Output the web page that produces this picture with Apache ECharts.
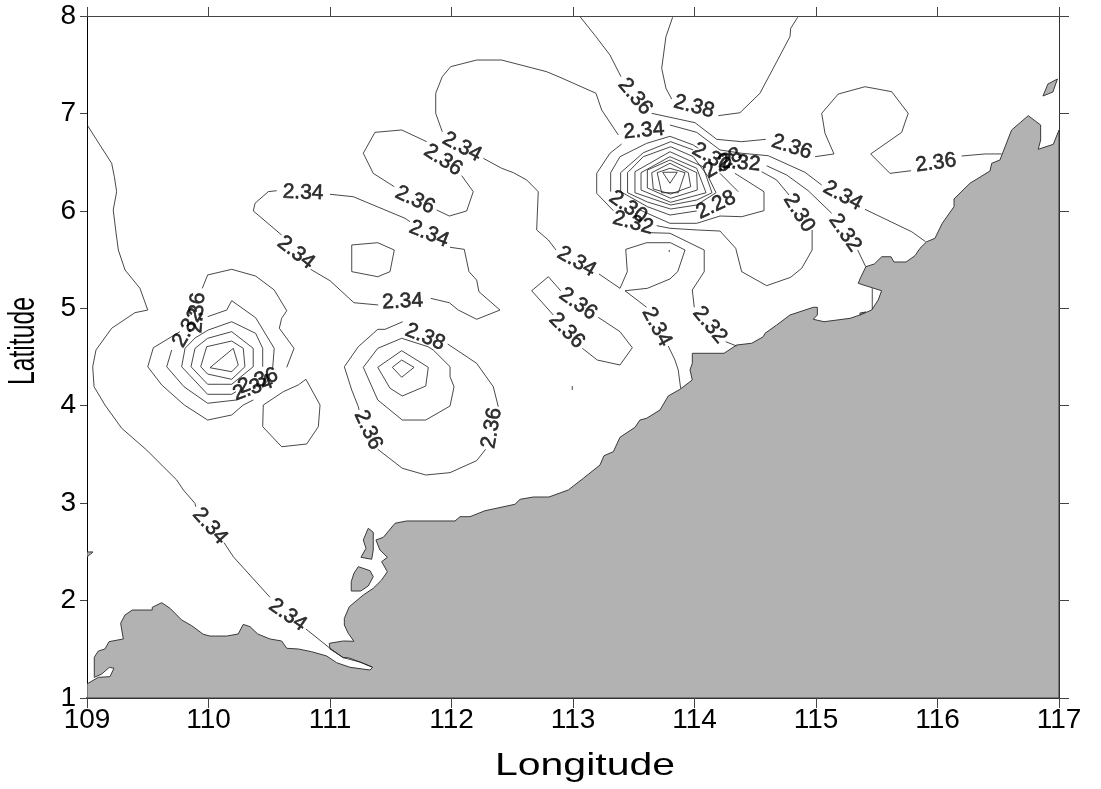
<!DOCTYPE html>
<html>
<head>
<meta charset="utf-8">
<script src="https://cdn.jsdelivr.net/npm/echarts@6/dist/echarts.min.js"></script>
<style>html,body{margin:0;padding:0;background:#fff}#c{width:1101px;height:789px}</style>
</head>
<body>
<div id="c"></div>
<script>
const lonTicks = [109,110,111,112,113,114,115,116,117];
const latTicks = [1,2,3,4,5,6,7,8];

// Land outline and islands [lon, lat]
const landMain = [[109,1.144],[109.093,1.212],[109.189,1.219],[109.222,1.305],[109.184,1.315],[109.121,1.246],[109.06,1.212],[109.06,1.418],[109.093,1.482],[109.148,1.503],[109.181,1.578],[109.299,1.606],[109.277,1.767],[109.313,1.852],[109.373,1.903],[109.537,1.903],[109.537,1.931],[109.615,1.978],[109.683,1.921],[109.779,1.801],[109.862,1.742],[109.957,1.654],[110.012,1.636],[110.15,1.636],[110.245,1.657],[110.286,1.756],[110.342,1.732],[110.405,1.657],[110.506,1.606],[110.602,1.585],[110.644,1.51],[110.739,1.503],[110.849,1.475],[110.973,1.431],[111.055,1.362],[111.165,1.315],[111.329,1.287],[111.351,1.315],[111.274,1.356],[111.15,1.414],[111.109,1.414],[111,1.503],[110.994,1.561],[111.109,1.585],[111.197,1.582],[111.15,1.664],[111.118,1.749],[111.118,1.818],[111.159,1.937],[111.274,2.057],[111.356,2.126],[111.425,2.211],[111.472,2.296],[111.425,2.399],[111.472,2.444],[111.411,2.519],[111.378,2.622],[111.439,2.649],[111.535,2.793],[111.631,2.817],[112.029,2.817],[112.07,2.861],[112.152,2.861],[112.276,2.922],[112.522,2.988],[112.564,3.039],[112.673,3.063],[112.802,3.063],[112.961,3.135],[113.085,3.255],[113.222,3.391],[113.255,3.487],[113.332,3.528],[113.387,3.676],[113.51,3.778],[113.551,3.853],[113.606,3.871],[113.716,3.956],[113.784,4.1],[113.88,4.168],[113.982,4.264],[113.963,4.367],[113.982,4.435],[113.982,4.538],[114.243,4.538],[114.347,4.623],[114.471,4.641],[114.566,4.708],[114.58,4.743],[114.676,4.828],[114.786,4.931],[114.978,5.01],[115.011,5.01],[115.011,4.931],[114.978,4.887],[115.066,4.862],[115.28,4.897],[115.362,4.931],[115.458,4.982],[115.512,5.085],[115.54,5.18],[115.348,5.256],[115.362,5.301],[115.411,5.427],[115.48,5.455],[115.541,5.529],[115.617,5.529],[115.642,5.475],[115.741,5.475],[115.815,5.54],[115.856,5.616],[115.911,5.683],[115.979,5.718],[116.039,5.872],[116.136,6.043],[116.136,6.122],[116.267,6.283],[116.432,6.409],[116.446,6.488],[116.514,6.522],[116.61,6.83],[116.747,6.977],[116.849,6.881],[116.849,6.727],[116.829,6.632],[116.953,6.683],[117,6.83],[117,1],[109,1]];
const islandA = [[111.315,2.742],[111.356,2.701],[111.356,2.519],[111.343,2.424],[111.255,2.444],[111.296,2.536],[111.274,2.622]];
const islandB = [[111.233,2.348],[111.329,2.307],[111.356,2.245],[111.315,2.15],[111.253,2.098],[111.175,2.098],[111.175,2.194],[111.197,2.28]];
const islandC = [[116.987,7.353],[116.909,7.302],[116.868,7.179],[116.95,7.22]];
const islandD = [[109,2.499],[109.049,2.499],[109,2.447]];
const islandE = [[115.362,4.951],[115.41,4.962],[115.362,4.931]];

// Contour segments [lon, lat]
const westA = [[109.002,6.881],[109.08,6.727],[109.203,6.488],[109.225,6.351],[109.244,6.197],[109.216,6.009],[109.236,5.804],[109.258,5.598],[109.313,5.393],[109.436,5.205],[109.5,4.982],[109.395,4.955],[109.203,4.795],[109.074,4.572],[109.047,4.4],[109.058,4.195],[109.148,4.007],[109.286,3.768],[109.491,3.545],[109.628,3.374],[109.738,3.238],[109.793,3.135],[109.889,2.998],[109.895,2.963]];
const westB = [[110.128,2.594],[110.204,2.45],[110.506,2.034]];
const westC = [[110.802,1.708],[111,1.51],[111.109,1.414],[111.247,1.369],[111.346,1.318]];
const loopA = [[113.373,6.779],[113.236,7.035],[113.189,7.207],[112.893,7.371],[112.784,7.428],[112.413,7.548],[112.207,7.548],[111.993,7.48],[111.924,7.377],[111.87,7.207],[111.87,7.001],[111.924,6.812]];
const loopB = [[112.262,6.539],[112.413,6.437],[112.509,6.392],[112.619,6.317],[112.714,6.197],[112.701,5.804],[112.797,5.701],[112.86,5.598]];
const loopC = [[113.214,5.352],[113.387,5.205],[113.447,5.376],[113.434,5.605],[113.606,5.673],[113.803,5.673],[113.922,5.598],[113.862,5.376],[113.798,5.301],[113.612,5.205],[113.428,5.18],[113.606,5.01]];
const loopD = [[113.784,4.613],[113.839,4.469],[113.866,4.367],[113.886,4.179]];
const northA = [[111.796,6.71],[111.59,6.83],[111.37,6.806],[111.274,6.591],[111.356,6.385],[111.529,6.248]];
const northB = [[111.878,6.009],[111.982,5.947],[112.125,5.999],[112.179,6.197],[112.084,6.361]];
const midA = [[110.561,6.207],[110.492,6.197],[110.383,6.078],[110.369,5.999],[110.602,5.752]];
const midB = [[111,6.17],[111.192,6.145],[111.617,5.924],[111.658,5.889]];
const midC = [[111.988,5.626],[112.105,5.605],[112.144,5.376],[112.207,5.29],[112.226,5.17],[112.399,4.982],[112.207,4.887],[112.056,4.982],[111.982,5.057],[111.829,5.102]];
const midD = [[111.397,5.034],[111.197,5.057],[111,5.283],[110.841,5.4]];
const midIsle = [[111.179,5.65],[111.393,5.673],[111.529,5.598],[111.494,5.376],[111.393,5.324],[111.179,5.376],[111.179,5.65]];
const peakW1 = [[109.949,5.205],[109.993,5.342],[110.191,5.4],[110.388,5.331],[110.541,5.188],[110.644,4.975],[110.602,4.897],[110.583,4.795],[110.704,4.589],[110.644,4.394]];
const peakW2 = [[109.993,4.914],[110.15,4.982],[110.191,5.078],[110.388,4.903],[110.541,4.589],[110.528,4.384]];
const peakW3 = [[109.765,4.76],[109.546,4.595],[109.5,4.4],[109.615,4.213],[109.801,4.007],[109.993,3.853],[110.191,3.905],[110.286,4.007],[110.369,4.059]];
const peakW4 = [[109.697,4.572],[109.656,4.4],[109.798,4.195],[109.993,4.025],[110.232,4.059]];
const peakW5 = [[110.446,4.4],[110.446,4.589],[110.388,4.743],[110.191,4.862],[109.998,4.777],[109.889,4.695],[109.807,4.589],[109.779,4.4],[109.993,4.117],[110.191,4.117],[110.226,4.144]];
const peakW6 = [[109.856,4.4],[109.993,4.22],[110.191,4.22],[110.368,4.4],[110.368,4.589],[110.191,4.76],[109.993,4.692],[109.889,4.589],[109.856,4.4]];
const peakW7 = [[109.936,4.4],[109.993,4.325],[110.191,4.271],[110.3,4.4],[110.286,4.589],[110.191,4.664],[109.985,4.606],[109.936,4.4]];
const peakW8 = [[110.012,4.39],[110.204,4.589],[110.245,4.418],[110.191,4.349],[110.012,4.39]];
const sideLobe = [[110.451,4.007],[110.616,4.144],[110.739,4.213],[110.802,4.271],[110.918,4.007],[110.904,3.785],[110.808,3.607],[110.602,3.579],[110.446,3.785],[110.451,4.007]];
const peakM1a = [[111.598,4.862],[111.453,4.784],[111.393,4.784],[111.233,4.606],[111.118,4.4],[111.179,4.161],[111.233,3.99],[111.239,3.956]];
const peakM1b = [[111.393,3.553],[111.595,3.358],[111.788,3.289],[111.988,3.313],[112.207,3.436],[112.281,3.553]];
const peakM1c = [[112.385,3.99],[112.344,4.195],[112.207,4.435],[111.969,4.633]];
const peakM2 = [[111.59,4.692],[111.393,4.589],[111.274,4.394],[111.393,4.059],[111.595,3.853],[111.788,3.853],[111.988,3.997],[112.021,4.195],[111.988,4.298],[111.988,4.4],[111.85,4.572],[111.806,4.606],[111.59,4.692]];
const peakM3 = [[111.59,4.565],[111.393,4.394],[111.494,4.179],[111.595,4.1],[111.788,4.202],[111.809,4.394],[111.59,4.565]];
const peakM4 = [[111.59,4.469],[111.692,4.394],[111.59,4.292],[111.513,4.394],[111.59,4.469]];
const southA = [[112.899,5.18],[112.797,5.324],[112.66,5.18],[112.838,4.931]];
const southB = [[113.208,4.907],[113.387,4.76],[113.488,4.595],[113.387,4.418],[113.2,4.469],[113.077,4.589]];
const topA1 = [[113.058,7.993],[113.189,7.788],[113.304,7.6],[113.395,7.377]];
const topA2 = [[113.648,7.001],[114.004,6.905],[114.183,6.734],[114.388,6.71],[114.586,6.734]];
const topA3 = [[114.992,6.556],[115.148,6.584],[115.074,6.796],[115.047,7.001],[115.183,7.199],[115.403,7.274],[115.623,7.223],[115.759,7.001],[115.705,6.806],[115.45,6.584],[115.609,6.385],[115.782,6.412]];
const topA4 = [[116.199,6.563],[116.391,6.584],[116.528,6.584]];
const topB1 = [[113.82,7.987],[113.765,7.788],[113.73,7.463],[113.765,7.258],[113.812,7.148]];
const topB2 = [[114.196,6.977],[114.374,7.007],[114.539,7.207],[114.786,7.788],[114.792,7.874],[114.849,7.987]];
const eastA1 = [[113.798,6.881],[114.018,6.806],[114.21,6.625],[114.389,6.591],[114.607,6.566],[114.909,6.396],[115.047,6.265]];
const eastA2 = [[115.403,6.016],[115.787,5.786],[115.903,5.683]];
const eastB1 = [[114.594,6.463],[114.759,6.368],[114.936,6.207],[115.129,5.975]];
const eastB2 = [[115.343,5.598],[115.409,5.427]];
const eastC1 = [[114.553,6.402],[114.676,6.317],[114.778,6.163]];
const eastC2 = [[114.968,5.804],[114.968,5.598],[114.882,5.41],[114.791,5.318],[114.594,5.232],[114.388,5.376],[114.339,5.616],[114.21,5.793],[114.018,5.804],[113.798,5.821],[113.689,5.848]];
const eastD1 = [[113.633,5.776],[113.798,5.77],[114.08,5.598],[114.08,5.376],[113.982,5.188],[113.998,5.01]];
const eastD2 = [[114.257,4.657],[114.347,4.613]];
const bayLine = [[115.463,5.205],[115.463,4.99]];
const ringE1 = [[113.4,6.686],[113.304,6.591],[113.195,6.385],[113.195,6.18],[113.332,6.002]];
const ringE2 = [[113.31,6.197],[113.31,6.392],[113.387,6.556],[113.606,6.693],[113.798,6.765],[113.99,6.676],[114.031,6.642]];
const ringE3 = [[114.018,5.999],[113.798,5.957],[113.612,6.043],[113.392,6.197],[113.392,6.392],[113.579,6.597],[113.804,6.71],[113.99,6.625]];
const ringE3b = [[114.21,6.385],[114.36,6.197]];
const ringE4 = [[114.333,6.385],[114.572,6.197],[114.572,6.002],[114.389,5.94],[114.21,5.947],[114.018,5.872],[113.798,5.872],[113.612,5.975],[113.551,6.009]];
const ringE5 = [[113.449,6.392],[113.579,6.556],[113.804,6.658],[113.99,6.556],[114.113,6.351],[114.177,6.186],[114.018,6.06],[113.804,6.019],[113.612,6.091],[113.449,6.186],[113.449,6.392]];
const ringE6 = [[113.51,6.402],[113.798,6.607],[114.07,6.453],[114.144,6.186],[114.018,6.111],[113.804,6.06],[113.51,6.186],[113.51,6.402]];
const ringE7 = [[113.56,6.392],[113.798,6.556],[114.018,6.437],[114.095,6.186],[113.804,6.088],[113.56,6.214],[113.56,6.392]];
const ringE8 = [[113.612,6.419],[113.798,6.522],[114.018,6.392],[114.023,6.214],[113.804,6.129],[113.612,6.235],[113.612,6.419]];
const ringE9 = [[113.648,6.392],[113.798,6.488],[113.949,6.392],[113.969,6.248],[113.804,6.173],[113.661,6.224],[113.648,6.392]];
const ringE10 = [[113.693,6.392],[113.798,6.437],[113.922,6.392],[113.867,6.186],[113.73,6.186],[113.693,6.392]];
const ringE11 = [[113.738,6.396],[113.858,6.396],[113.798,6.283],[113.738,6.396]];
const specA = [[113.792,5.598],[113.792,5.578]];
const specB = [[112.994,4.202],[112.994,4.161]];

const contourSegments = [westA,westB,westC,loopA,loopB,loopC,loopD,northA,northB,midA,midB,midC,midD,midIsle,peakW1,peakW2,peakW3,peakW4,peakW5,peakW6,peakW7,peakW8,sideLobe,peakM1a,peakM1b,peakM1c,peakM2,peakM3,peakM4,southA,southB,topA1,topA2,topA3,topA4,topB1,topB2,eastA1,eastA2,eastB1,eastB2,eastC1,eastC2,eastD1,eastD2,bayLine,ringE1,ringE2,ringE3,ringE3b,ringE4,ringE5,ringE6,ringE7,ringE8,ringE9,ringE10,ringE11,specA,specB];
const landShapes = [landMain,islandA,islandB,islandC,islandD,islandE];

// Contour labels
const labelLon  = [110.778,110.72,111.598,111.815,111.699,111.93,112.086,111.782,111.313,112.331,110.012,110.652,113.51,113.996,113.584,114.8,115.987,115.22,115.239,114.86,114.177,114.374,114.141,114.234,113.453,113.494,113.03,113.041,112.948,113.689,114.127,109.905,109.831,110.407,110.366];
const labelLat  = [6.186,5.571,5.068,5.762,6.111,6.522,6.655,4.705,3.751,3.771,2.765,1.852,7.172,7.069,6.823,6.655,6.491,6.156,5.773,5.978,6.06,6.491,6.543,6.491,6.04,5.875,5.478,5.044,4.77,4.811,4.828,4.952,4.798,4.254,4.182];
const labelText = ['2.34','2.34','2.34','2.34','2.36','2.36','2.34','2.38','2.36','2.36','2.34','2.34','2.36','2.38','2.34','2.36','2.36','2.34','2.32','2.30','2.28','2.32','2.30','2.28','2.30','2.32','2.34','2.36','2.36','2.34','2.32','2.36','2.32','2.36','2.34'];
const labelAngle = [-2,-38,3,-22,-25,-33,-28,-22,-65,80,-48,-35,-50,-15,5,-18,8,-28,-55,-58,25,-5,-30,30,-35,-15,-30,-35,-45,-62,-50,85,60,20,20];

const FONT = '"Liberation Sans", Arial, sans-serif';

const series = [];
series.push({
  type: 'custom',
  coordinateSystem: 'cartesian2d',
  silent: true,
  z: 1,
  clip: true,
  data: landShapes.map((s, i) => [i]),
  renderItem: (params, api) => {
    const pts = landShapes[api.value(0)].map(p => api.coord(p));
    return {
      type: 'polygon',
      shape: { points: pts },
      style: { fill: '#b2b2b2', stroke: '#3a3a3a', lineWidth: 1 }
    };
  }
});
contourSegments.forEach(seg => {
  series.push({
    type: 'line',
    data: seg,
    silent: true,
    z: 2,
    symbol: 'none',
    smooth: false,
    animation: false,
    lineStyle: { color: '#1a1a1a', width: 0.8 }
  });
});
series.push({
  type: 'scatter',
  silent: true,
  z: 3,
  symbolSize: 0,
  data: labelText.map((t, i) => ({
    value: [labelLon[i], labelLat[i]],
    label: { show: true, formatter: t, rotate: labelAngle[i], position: 'inside', align: 'center', verticalAlign: 'middle',
             fontFamily: FONT, fontSize: 21, color: '#000', textBorderColor: '#000', textBorderWidth: 0.6 }
  }))
});

const tickCol = '#444';
const option = {
  animation: false,
  backgroundColor: '#fff',
  grid: { left: 87, right: 42, top: 16, bottom: 91 },
  xAxis: [
    { type: 'value', min: 109, max: 117, interval: 1, position: 'bottom',
      axisLine: { lineStyle: { color: '#333', width: 2 } },
      axisTick: { show: true, inside: false, length: 10, lineStyle: { color: tickCol, width: 1 } },
      axisLabel: { show: true, fontFamily: FONT, fontSize: 28, color: '#000', margin: 8,
                   hideOverlap: false, showMinLabel: true, showMaxLabel: true,
                   formatter: v => lonTicks.includes(v) ? String(v) : '' },
      splitLine: { show: false } },
    { type: 'value', min: 109, max: 117, interval: 1, position: 'top',
      axisLine: { lineStyle: { color: '#444', width: 1 } },
      axisTick: { show: true, inside: false, length: 9, lineStyle: { color: tickCol, width: 1 } },
      axisLabel: { show: false }, splitLine: { show: false } }
  ],
  yAxis: [
    { type: 'value', min: 1, max: 8, interval: 1, position: 'left',
      axisLine: { show: true, lineStyle: { color: '#000', width: 1 } },
      axisTick: { show: true, inside: false, length: 7, lineStyle: { color: tickCol, width: 1 } },
      axisLabel: { show: true, fontFamily: FONT, fontSize: 28, color: '#000', margin: 11,
                   showMinLabel: true, showMaxLabel: true,
                   formatter: v => latTicks.includes(v) ? String(v) : '' },
      splitLine: { show: false } },
    { type: 'value', min: 1, max: 8, interval: 1, position: 'right',
      axisLine: { show: true, lineStyle: { color: '#333', width: 1 } },
      axisTick: { show: true, inside: false, length: 10, lineStyle: { color: tickCol, width: 1 } },
      axisLabel: { show: false }, splitLine: { show: false } }
  ],
  graphic: [
    { type: 'text', x: 585, y: 766, scaleX: 1.28, silent: true,
      style: { text: 'Longitude', font: '32px ' + FONT, fill: '#000', textAlign: 'center', textVerticalAlign: 'middle' } },
    { type: 'text', x: 24, y: 341, rotation: Math.PI / 2, scaleX: 0.67, silent: true,
      style: { text: 'Latitude', font: '37px ' + FONT, fill: '#000', textAlign: 'center', textVerticalAlign: 'middle' } }
  ],
  series
};
echarts.init(document.getElementById('c'), null, { renderer: 'canvas' }).setOption(option);
</script>
</body>
</html>
